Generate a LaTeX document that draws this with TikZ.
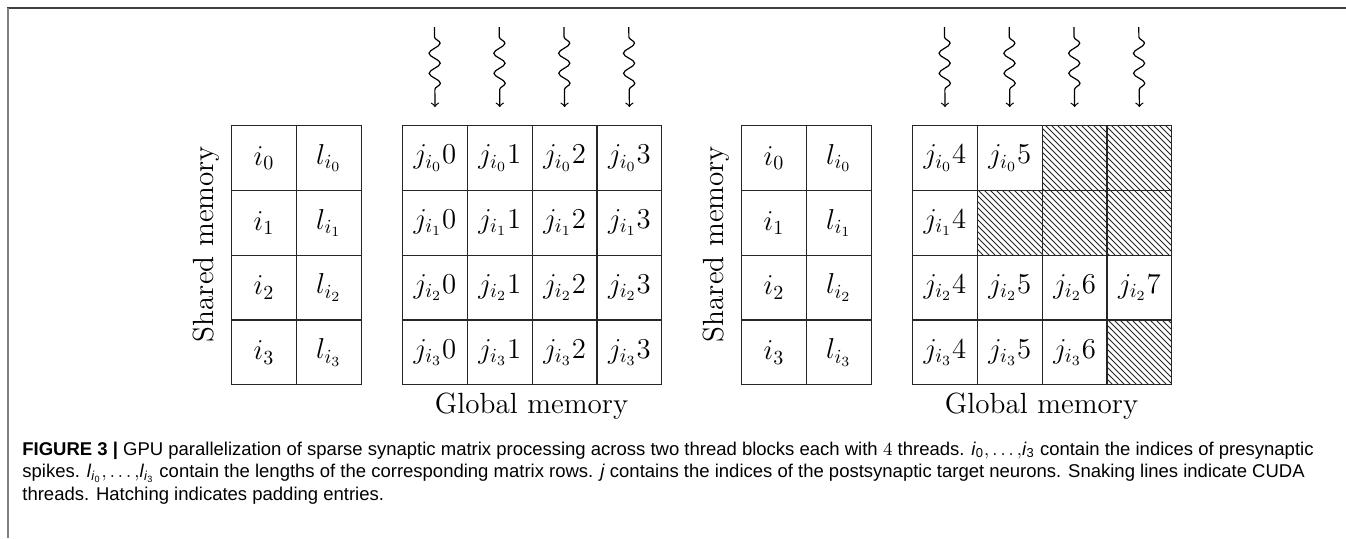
\documentclass[tikz,border=0pt]{standalone}
\usepackage{fontspec}
\newfontfamily\capfont{Liberation Sans}
\usetikzlibrary{decorations.pathmorphing,patterns}
\begin{document}
\begin{tikzpicture}[x=0.5pt,y=-0.5pt,
  cell/.style={draw=black!85, line width=0.6pt, minimum width=32.4pt, minimum height=32.4pt,
    inner sep=0pt, anchor=north west, font=\fontsize{14.4}{17}\selectfont},
  pad/.style={cell, pattern=north west lines, pattern color=black!85},
  lbl/.style={inner sep=0pt, font=\fontsize{14.6}{17}\selectfont},
  thread/.style={->, line width=0.6pt, decorate,
    decoration={snake, amplitude=2.8pt, segment length=10pt, pre length=5pt, post length=6pt}},
  captext/.style={anchor=base west, inner sep=0pt, align=left, font=\capfont\fontsize{9.25}{11.25}\selectfont}
]
\useasboundingbox (0,0) rectangle (1346,538);
% frame
\draw[black!75, line width=0.9pt] (7,8) -- (1346,8);
\draw[black!50, line width=0.9pt] (8,8) -- (8,538);

% first block
\foreach \r in {0,...,3} {
  \node[cell] (a\r0) at (231, 125+64.8*\r) {$i_\r$};
  \node[cell] (a\r1) at (295.8, 125+64.8*\r) {$l_{i_\r}$};
  \foreach \c in {0,...,3}
    \node[cell] (b\r\c) at (402+64.8*\c, 125+64.8*\r) {$j_{i_\r}\c$};
}
% second block
\foreach \r in {0,...,3} {
  \node[cell] (c\r0) at (741, 125+64.8*\r) {$i_\r$};
  \node[cell] (c\r1) at (805.8, 125+64.8*\r) {$l_{i_\r}$};
}
\node[cell] (d00) at (912, 125) {$j_{i_0}4$};
\node[cell] (d01) at (976.8, 125) {$j_{i_0}5$};
\node[pad]  (d02) at (1041.6, 125) {};
\node[pad]  (d03) at (1106.4, 125) {};
\node[cell] (d10) at (912, 189.8) {$j_{i_1}4$};
\node[pad]  (d11) at (976.8, 189.8) {};
\node[pad]  (d12) at (1041.6, 189.8) {};
\node[pad]  (d13) at (1106.4, 189.8) {};
\node[cell] (d20) at (912, 254.6) {$j_{i_2}4$};
\node[cell] (d21) at (976.8, 254.6) {$j_{i_2}5$};
\node[cell] (d22) at (1041.6, 254.6) {$j_{i_2}6$};
\node[cell] (d23) at (1106.4, 254.6) {$j_{i_2}7$};
\node[cell] (d30) at (912, 319.4) {$j_{i_3}4$};
\node[cell] (d31) at (976.8, 319.4) {$j_{i_3}5$};
\node[cell] (d32) at (1041.6, 319.4) {$j_{i_3}6$};
\node[pad]  (d33) at (1106.4, 319.4) {};

% threads
\foreach \c in {0,...,3} {
  \coordinate (tb\c) at (434.4+64.8*\c, 27);
  \draw[thread] (tb\c) -- ([yshift=9pt]b0\c.north);
  \coordinate (td\c) at (944.4+64.8*\c, 27);
  \draw[thread] (td\c) -- ([yshift=9pt]d0\c.north);
}

% labels
\node[lbl, rotate=90, anchor=base] (sm1) at (213, 244) {Shared memory};
\node[lbl, rotate=90, anchor=base] (sm2) at (723, 244) {Shared memory};
\node[lbl, anchor=base] (gm1) at (531.6, 413) {Global memory};
\node[lbl, anchor=base] (gm2) at (1041.6, 413) {Global memory};

% caption (base anchor = baseline of last line)
\node[captext] (cap) at (22, 500) {\textbf{FIGURE 3 |} GPU parallelization of sparse synaptic matrix processing across two thread blocks each with {\rmfamily 4} threads. \textit{i}\textsubscript{0}$,\ldots,$\textit{i}\textsubscript{3} contain the indices of presynaptic\\
spikes. \textit{l}\textsubscript{\textit{i}\textsubscript{0}}$,\ldots,$\textit{l}\textsubscript{\textit{i}\textsubscript{3}} contain the lengths of the corresponding matrix rows. \textit{j} contains the indices of the postsynaptic target neurons. Snaking lines indicate CUDA\\
threads. Hatching indicates padding entries.};
\end{tikzpicture}
\end{document}
